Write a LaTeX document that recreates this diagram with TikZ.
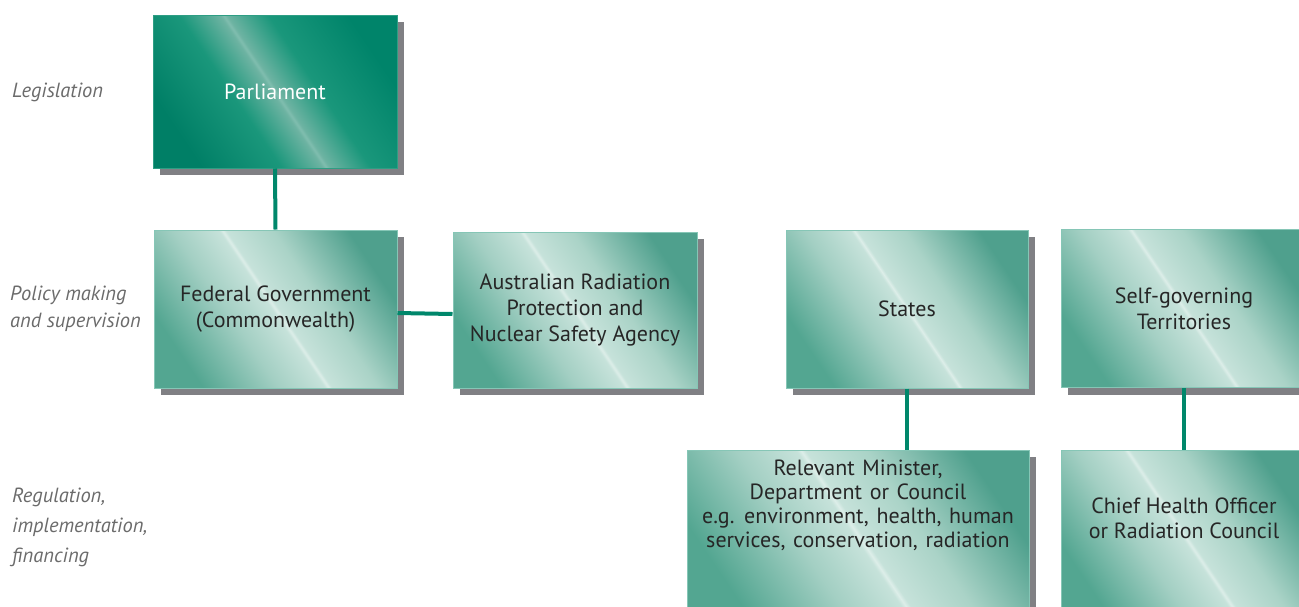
\documentclass[tikz,border=0pt]{standalone}
\usepackage{fontspec}
\setmainfont{PT Sans}
\newfontfamily\widesp[WordSpace=1.3]{PT Sans}
\usetikzlibrary{shadows}
\definecolor{lsA}{HTML}{53A691}
\definecolor{lsB}{HTML}{A3CFC3}
\definecolor{lsC}{HTML}{C6E2DA}
\definecolor{lsL}{HTML}{DDEEE9}
\definecolor{lsE}{HTML}{AAD3C7}
\definecolor{lsD}{HTML}{4FA08D}
\definecolor{dkA}{HTML}{007F66}
\definecolor{dkB}{HTML}{1A977B}
\definecolor{dkC}{HTML}{6DB3A2}
\definecolor{dkL}{HTML}{80BEAF}
\definecolor{dkD}{HTML}{00846A}
\definecolor{lightedge}{HTML}{86C6B6}
\definecolor{darkedge}{HTML}{2E9E84}
\definecolor{shadowgray}{HTML}{808084}
\definecolor{connteal}{HTML}{00876B}
\definecolor{labelgray}{HTML}{6B6B6B}
\definecolor{boxtext}{HTML}{262626}
\pgfdeclarehorizontalshading{lightshine}{100bp}{color(0bp)=(lsA); color(25bp)=(lsA); color(40bp)=(lsB); color(49.3bp)=(lsC); color(50bp)=(lsL); color(50.7bp)=(lsC); color(60bp)=(lsE); color(75bp)=(lsD); color(100bp)=(lsD)}
\pgfdeclarehorizontalshading{darkshine}{100bp}{color(0bp)=(dkA); color(25bp)=(dkA); color(41bp)=(dkB); color(49.3bp)=(dkC); color(50bp)=(dkL); color(50.7bp)=(dkC); color(59bp)=(dkB); color(75bp)=(dkD); color(100bp)=(dkD)}
\tikzset{
  boxshadow/.style={drop shadow={shadow xshift=7pt, shadow yshift=-7pt, fill=shadowgray, opacity=1}},
  lightbox/.style={rectangle, shade, shading=lightshine, shading angle=34, draw=lightedge, line width=1pt,
    boxshadow, text=boxtext, align=center, font=\fontsize{22}{26}\selectfont, inner sep=0pt},
  darkbox/.style={rectangle, shade, shading=darkshine, shading angle=34, draw=darkedge, line width=1pt,
    boxshadow, text=white, align=center, font=\fontsize{22}{26}\selectfont, inner sep=0pt},
  conn/.style={draw=connteal, line width=4pt},
  levellabel/.style={anchor=west, align=left, text=labelgray, font=\itshape\fontsize{20.5}{27}\selectfont, inner sep=0pt},
}
\begin{document}
\begin{tikzpicture}[x=1pt, y=-1pt]
\path[use as bounding box] (0,0) rectangle (1299,606);
\clip (0,0) rectangle (1299,606);
% level labels
\node[levellabel] (lleg) at (12,92) {Legislation};
\node[levellabel] (lpol) at (10,309) {Policy making\\and supervision};
\node[levellabel, font=\itshape\fontsize{20.5}{30}\selectfont] (lreg) at (12,527) {Regulation,\\implementation,\\financing};
% boxes
\node[darkbox, minimum width=244pt, minimum height=153pt] (parl) at (275,91.5) {Parliament};
\node[lightbox, minimum width=243pt, minimum height=158pt] (fed) at (275.5,309) {Federal Government\\(Commonwealth)};
\node[lightbox, minimum width=244pt, minimum height=156pt] (arp) at (575,310) {Australian Radiation\\Protection and\\Nuclear Safety Agency};
\node[lightbox, minimum width=242pt, minimum height=158pt] (states) at (907,309) {States};
\node[lightbox, minimum width=246pt, minimum height=158pt] (terr) at (1184,308.5) {Self-governing\\Territories};
\node[lightbox, minimum width=342pt, minimum height=170pt,
  label={[text=boxtext, align=center, font=\widesp\fontsize{22}{24}\selectfont, yshift=30pt]center:Relevant Minister,\\Department or Council\\e.g. environment, health, human\\services, conservation, radiation}] (minb) at (858,535) {};
\node[lightbox, minimum width=246pt, minimum height=170pt,
  label={[text=boxtext, align=center, font=\fontsize{22}{25}\selectfont, yshift=17pt]center:Chief Health Officer\\or Radiation Council}] (chief) at (1184,535) {};
% connectors
\draw[conn] (parl.south) -- (fed.north);
\draw[conn] ([yshift=-4pt]fed.east) -- ([yshift=-4pt]arp.west);
\draw[conn] (states.south) -- (states.south |- minb.north);
\draw[conn] (terr.south) -- (terr.south |- chief.north);
\end{tikzpicture}
\end{document}
